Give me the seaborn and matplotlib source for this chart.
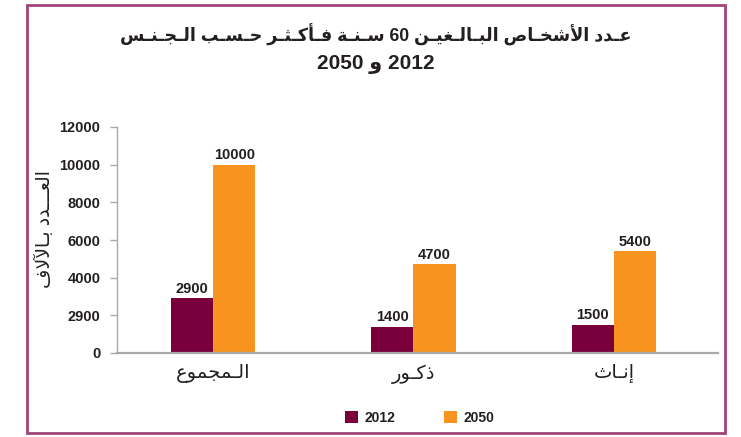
import re
import matplotlib
matplotlib.use('Agg')
import matplotlib.pyplot as plt
from matplotlib.patches import Rectangle
import seaborn as sns
import pandas as pd

# Chart data
categories = ['الـمجموع', 'ذكـور', 'إنـاث']
years = ['2012', '2050']
values_2012 = [2900, 1400, 1500]
values_2050 = [10000, 4700, 5400]
ytick_values = [0, 2000, 4000, 6000, 8000, 10000, 12000]
ytick_labels = ['0', '2900', '4000', '6000', '8000', '10000', '12000']
title_line1 = 'عـدد الأشخـاص البـالـغيـن 60 سـنـة فـأكـثـر حـسـب الـجـنـس'
title_line2 = '2012 و 2050'
ylabel_text = 'العـــدد بـالآلاف'

# matplotlib has no Arabic shaping, so pick presentation forms and reverse for display
ar_forms = {
    0x0622: (0xFE81, 2), 0x0623: (0xFE83, 2), 0x0624: (0xFE85, 2), 0x0625: (0xFE87, 2),
    0x0626: (0xFE89, 4), 0x0627: (0xFE8D, 2), 0x0628: (0xFE8F, 4), 0x0629: (0xFE93, 2),
    0x062A: (0xFE95, 4), 0x062B: (0xFE99, 4), 0x062C: (0xFE9D, 4), 0x062D: (0xFEA1, 4),
    0x062E: (0xFEA5, 4), 0x062F: (0xFEA9, 2), 0x0630: (0xFEAB, 2), 0x0631: (0xFEAD, 2),
    0x0632: (0xFEAF, 2), 0x0633: (0xFEB1, 4), 0x0634: (0xFEB5, 4), 0x0635: (0xFEB9, 4),
    0x0636: (0xFEBD, 4), 0x0637: (0xFEC1, 4), 0x0638: (0xFEC5, 4), 0x0639: (0xFEC9, 4),
    0x063A: (0xFECD, 4), 0x0641: (0xFED1, 4), 0x0642: (0xFED5, 4), 0x0643: (0xFED9, 4),
    0x0644: (0xFEDD, 4), 0x0645: (0xFEE1, 4), 0x0646: (0xFEE5, 4), 0x0647: (0xFEE9, 4),
    0x0648: (0xFEED, 2), 0x0649: (0xFEEF, 2), 0x064A: (0xFEF1, 4),
}
lam_alef = {'\u0622': 0xFEF5, '\u0623': 0xFEF7, '\u0625': 0xFEF9, '\u0627': 0xFEFB}
tatweel = '\u0640'


def joins_prev(t):
    return len(t) == 2 or t == tatweel or ord(t) in ar_forms


def joins_next(t):
    if len(t) == 2:
        return False
    return t == tatweel or (ord(t) in ar_forms and ar_forms[ord(t)][1] == 4)


def arabic(text):
    tokens = []
    i = 0
    while i < len(text):
        if text[i] == '\u0644' and i + 1 < len(text) and text[i + 1] in lam_alef:
            tokens.append(text[i:i + 2])
            i += 2
        else:
            tokens.append(text[i])
            i += 1
    out = []
    for k, t in enumerate(tokens):
        prev = tokens[k - 1] if k > 0 else ' '
        nxt = tokens[k + 1] if k + 1 < len(tokens) else ' '
        p = joins_next(prev) and joins_prev(t)
        n = joins_next(t) and joins_prev(nxt)
        if len(t) == 2:
            out.append(chr(lam_alef[t[1]] + int(p)))
        elif ord(t) in ar_forms:
            base, cnt = ar_forms[ord(t)]
            if cnt == 2:
                off = 1 if p else 0
            else:
                off = 3 if (p and n) else 1 if p else 2 if n else 0
            out.append(chr(base + off))
        else:
            out.append(t)
    shaped = ''.join(out)
    runs = re.findall(r'[0-9]+|[^0-9]+', shaped)
    return ''.join(r if r[0].isdigit() else r[::-1] for r in reversed(runs))


maroon = '#7A003C'
orange = '#F7931E'
text_col = '#231F20'
grey = '#A7A9AC'

df = pd.DataFrame({
    'category': [arabic(c) for c in categories] * 2,
    'year': [years[0]] * 3 + [years[1]] * 3,
    'value': values_2012 + values_2050,
})

sns.set_style('white')
plt.rcParams['font.family'] = ['Liberation Sans', 'DejaVu Sans']
plt.rcParams['text.color'] = text_col

fig = plt.figure(figsize=(7.41, 4.37), dpi=100)
ax = fig.add_axes([117 / 741, 1 - 353 / 437, 601 / 741, 226 / 437])

sns.barplot(data=df, x='category', y='value', hue='year', hue_order=years,
            palette=[maroon, orange], width=0.42, gap=0, saturation=1,
            linewidth=0, ax=ax)

for cont, vals in zip(ax.containers, [values_2012, values_2050]):
    ax.bar_label(cont, labels=[str(v) for v in vals], padding=2,
                 fontsize=10.5, fontweight='bold', color=text_col)

ax.set_ylim(0, 12000)
ax.set_xlim(-0.48, 2.52)
ax.set_yticks(ytick_values)
ax.set_yticklabels(ytick_labels, fontsize=10.5, fontweight='bold', color=text_col)
ax.tick_params(axis='y', length=5, width=1, color=grey, direction='out', pad=7, left=True)
ax.tick_params(axis='x', length=0, labelsize=14, pad=8, labelcolor=text_col)
ax.set_xlabel('')
ax.set_ylabel(arabic(ylabel_text), fontsize=13.5, color=text_col)
ax.yaxis.set_label_coords(-0.105, 0.55)

for s in ['top', 'right']:
    ax.spines[s].set_visible(False)
ax.spines['left'].set_color(grey)
ax.spines['left'].set_linewidth(1)
ax.spines['bottom'].set_color(grey)
ax.spines['bottom'].set_linewidth(1.6)

handles, labels = ax.get_legend_handles_labels()
ax.get_legend().remove()
fig.legend(handles, labels, loc='center', bbox_to_anchor=(420 / 741, 1 - 418 / 437),
           ncol=2, frameon=False, handlelength=0.9, handleheight=0.9,
           handletextpad=0.5, columnspacing=3.5,
           prop={'weight': 'bold', 'size': 10})

fig.text(0.507, 1 - 35 / 437, arabic(title_line1), ha='center', va='center',
         fontsize=12.7, fontweight='bold', color=text_col)
fig.text(0.507, 1 - 65 / 437, arabic(title_line2), ha='center', va='center',
         fontsize=15, fontweight='bold', color=text_col)

fig.add_artist(Rectangle((27 / 741, 1 - 433 / 437), 698 / 741, 428 / 437,
                         transform=fig.transFigure, fill=False,
                         edgecolor='#A04479', linewidth=2))

fig.savefig('out.png', dpi=100)
